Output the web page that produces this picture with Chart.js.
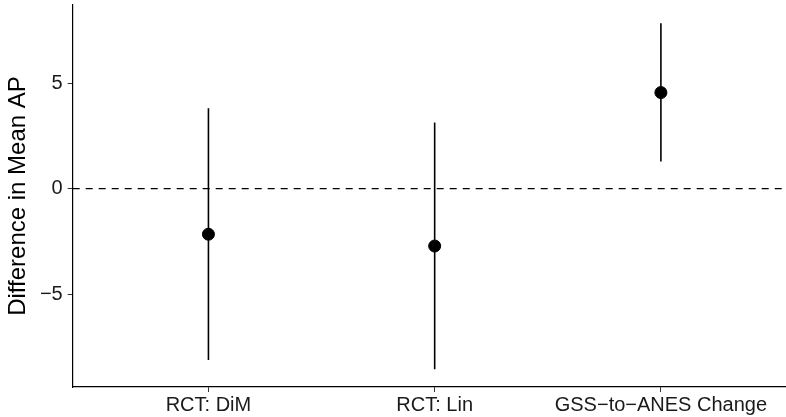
<!DOCTYPE html>
<html>
<head>
<meta charset="utf-8">
<script src="https://cdn.jsdelivr.net/npm/chart.js@4.4.1/dist/chart.umd.min.js"></script>
<style>
  html, body { margin: 0; padding: 0; background: #fff; }
  #wrap { width: 786px; height: 417px; }
</style>
</head>
<body>
<div id="wrap"><canvas id="chart"></canvas></div>
<script>
// Datos
const categorias = ['RCT: DiM', 'RCT: Lin', 'GSS\u2212to\u2212ANES Change'];
const estimaciones = [-2.16, -2.72, 4.55];
const limiteInferior = [-8.12, -8.56, 1.28];
const limiteSuperior = [3.81, 3.13, 7.84];
const ticksY = [-5, 0, 5];

const puntos = categorias.map((c, i) => ({ x: i + 1, y: estimaciones[i] }));

// Barras de error y linea de referencia en cero
const barrasError = {
    id: 'barrasError',
    beforeDatasetsDraw(chart) {
        const ctx = chart.ctx;
        const xs = chart.scales.x;
        const ys = chart.scales.y;
        const area = chart.chartArea;
        ctx.save();
        // linea punteada en y = 0
        ctx.strokeStyle = '#000';
        ctx.lineWidth = 1.3;
        ctx.setLineDash([7, 6]);
        ctx.beginPath();
        ctx.moveTo(area.left, ys.getPixelForValue(0));
        ctx.lineTo(area.right, ys.getPixelForValue(0));
        ctx.stroke();
        ctx.setLineDash([]);
        // intervalos
        ctx.lineWidth = 1.6;
        categorias.forEach((c, i) => {
            const x = xs.getPixelForValue(i + 1);
            ctx.beginPath();
            ctx.moveTo(x, ys.getPixelForValue(limiteInferior[i]));
            ctx.lineTo(x, ys.getPixelForValue(limiteSuperior[i]));
            ctx.stroke();
        });
        ctx.restore();
    }
};

const fuente = 'Liberation Sans, Arial, sans-serif';

new Chart(document.getElementById('chart').getContext('2d'), {
    type: 'scatter',
    data: {
        datasets: [{
            data: puntos,
            backgroundColor: '#000',
            borderColor: '#000',
            pointRadius: 6,
            pointHoverRadius: 6
        }]
    },
    options: {
        responsive: true,
        maintainAspectRatio: false,
        animation: false,
        layout: { autoPadding: false, padding: { top: 5, right: 0, left: 0, bottom: 0 } },
        plugins: {
            legend: { display: false },
            tooltip: { enabled: false }
        },
        scales: {
            x: {
                type: 'linear',
                min: 0.4,
                max: 3.553,
                afterBuildTicks: s => { s.ticks = categorias.map((c, i) => ({ value: i + 1 })); },
                afterFit: s => { s.height = 30; s.paddingLeft = 0; s.paddingRight = 0; },
                border: { display: true, color: '#000', width: 1.2 },
                grid: { display: true, drawOnChartArea: false, drawTicks: true, tickLength: 5, color: '#333' },
                ticks: {
                    color: '#1a1a1a',
                    padding: 1,
                    maxRotation: 0,
                    autoSkip: false,
                    font: { family: fuente, size: 20 },
                    callback: v => categorias[v - 1]
                }
            },
            y: {
                min: -9.4,
                max: 8.7,
                afterBuildTicks: s => { s.ticks = ticksY.map(v => ({ value: v })); },
                afterFit: s => { s.width = 72.7; s.paddingTop = 0; s.paddingBottom = 0; },
                border: { display: true, color: '#000', width: 1.2 },
                grid: { display: true, drawOnChartArea: false, drawTicks: true, tickLength: 5, color: '#333' },
                title: {
                    display: true,
                    text: 'Difference in Mean AP',
                    color: '#000',
                    padding: { top: 4, bottom: 0 },
                    font: { family: fuente, size: 24 }
                },
                ticks: {
                    color: '#1a1a1a',
                    padding: 5,
                    font: { family: fuente, size: 20 },
                    callback: v => (v < 0 ? '\u2212' + Math.abs(v) : String(v))
                }
            }
        }
    },
    plugins: [barrasError]
});
</script>
</body>
</html>
